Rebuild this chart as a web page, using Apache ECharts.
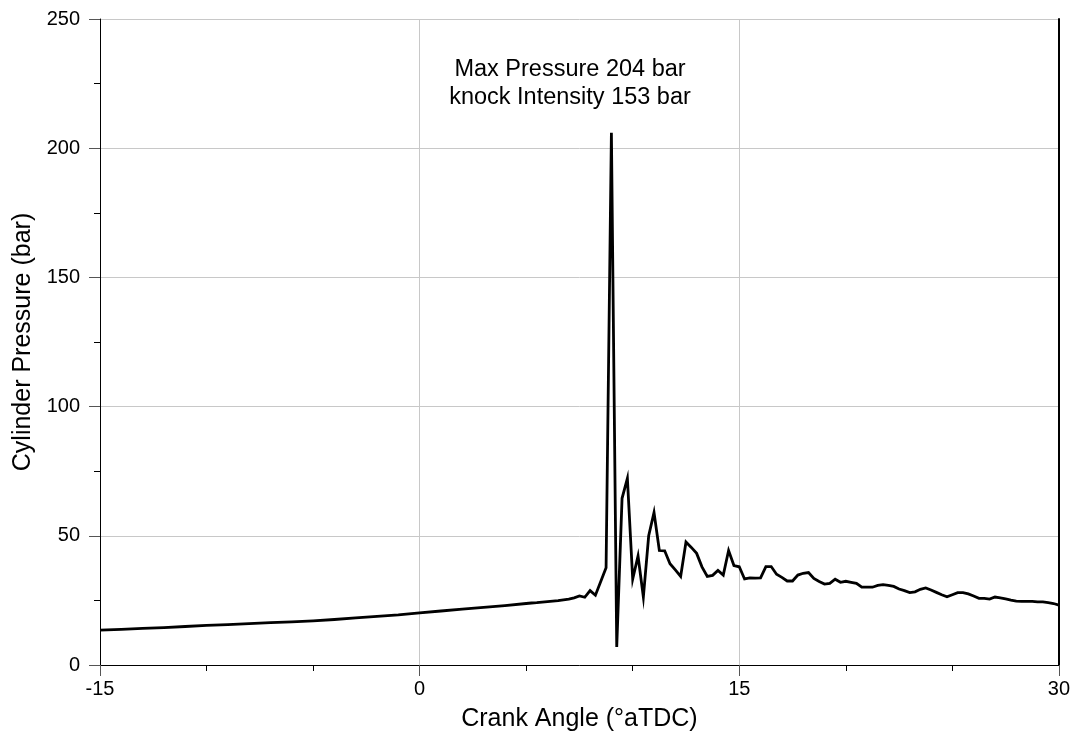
<!DOCTYPE html>
<html>
<head>
<meta charset="utf-8">
<script src="https://cdn.jsdelivr.net/npm/echarts@6/dist/echarts.min.js"></script>
<style>
html,body{margin:0;padding:0;background:#fff;}
#chart{width:1073px;height:738px;}
</style>
</head>
<body>
<div id="chart"></div>
<script>
const angles = [
  -15,-14,-13,-12,-11,-10,-9,-8,-7,-6,-5,-4,-3,-2,-1,0,1,2,3,4,5,
  5.25,5.5,5.75,6,6.25,6.5,6.75,7,7.25,7.5,7.75,8,8.25,8.5,8.75,9,
  9.25,9.5,9.75,10,10.25,10.5,10.75,11,11.25,11.5,11.75,12,12.25,12.5,12.75,13,
  13.25,13.5,13.75,14,14.25,14.5,14.75,15,15.25,15.5,15.75,16,16.25,16.5,16.75,17,
  17.25,17.5,17.75,18,18.25,18.5,18.75,19,19.25,19.5,19.75,20,20.25,20.5,20.75,21,
  21.25,21.5,21.75,22,22.25,22.5,22.75,23,23.25,23.5,23.75,24,24.25,24.5,24.75,25,
  25.25,25.5,25.75,26,26.25,26.5,26.75,27,27.25,27.5,27.75,28,28.25,28.5,28.75,29,
  29.25,29.5,29.75,30
];
const pressures = [
  13.5,13.8,14.2,14.5,14.9,15.3,15.6,16.0,16.4,16.7,17.1,17.6,18.2,18.8,19.4,20.2,20.9,21.6,22.3,23.0,23.8,
  24.0,24.1,24.3,24.5,24.7,24.9,25.2,25.5,26.0,26.7,26.2,28.8,27.0,32.3,37.6,206,
  7,64.5,72.2,33.3,42.2,26.3,50,59,44.3,44.2,39.2,36.8,34.3,47.6,45.5,43.2,
  38,34.3,34.7,36.6,34.8,44.3,38.5,38,33.3,33.7,33.6,33.7,38.1,38.1,35.1,33.9,
  32.5,32.5,34.8,35.5,35.8,33.5,32.3,31.3,31.6,33.2,32.0,32.4,32.0,31.6,30.1,30.1,
  30.1,30.8,31.1,30.8,30.4,29.4,28.8,28.0,28.3,29.3,29.8,29.0,28.1,27.2,26.4,27.2,
  28.0,28.0,27.5,26.7,25.8,25.8,25.5,26.3,26.0,25.6,25.1,24.7,24.6,24.6,24.6,24.4,
  24.4,24.1,23.8,23.2
];
const xTickLabels = [-15, 0, 15, 30];
const yTickLabels = [0, 50, 100, 150, 200, 250];
const annotationLines = ['Max Pressure 204 bar', 'knock Intensity 153 bar'];
const xName = 'Crank Angle (°aTDC)';
const yName = 'Cylinder Pressure (bar)';

const FONT = '"Liberation Sans", Arial, sans-serif';
const chart = echarts.init(document.getElementById('chart'));
const seriesData = angles.map((a, i) => [a, pressures[i]]);

chart.setOption({
  animation: false,
  backgroundColor: '#fff',
  grid: {left: 100, right: 14, top: 19, bottom: 73, containLabel: false},
  xAxis: [{
    type: 'value', min: -15, max: 30, interval: 15,
    name: xName, nameLocation: 'middle', nameGap: 42,
    nameTextStyle: {fontFamily: FONT, fontSize: 25, color: '#000'},
    axisLine: {show: true, onZero: false, lineStyle: {color: '#000', width: 1}},
    axisTick: {show: true, length: 11, lineStyle: {color: '#555', width: 1}},
    minorTick: {show: true, splitNumber: 3, length: 6, lineStyle: {color: '#000', width: 1}},
    axisLabel: {fontFamily: FONT, fontSize: 20, color: '#000', margin: 14,
      formatter: v => xTickLabels.includes(v) ? String(v) : ''},
    splitLine: {show: true, lineStyle: {color: '#c8c8c8', width: 1}}
  }],
  yAxis: [{
    type: 'value', min: 0, max: 250, interval: 50,
    name: yName, nameLocation: 'middle', nameGap: 60,
    nameTextStyle: {fontFamily: FONT, fontSize: 25, color: '#000'},
    axisLine: {show: true, onZero: false, lineStyle: {color: '#000', width: 1}},
    axisTick: {show: true, length: 11, lineStyle: {color: '#555', width: 1}},
    minorTick: {show: true, splitNumber: 2, length: 6, lineStyle: {color: '#000', width: 1}},
    axisLabel: {fontFamily: FONT, fontSize: 20, color: '#000', margin: 20,
      formatter: v => yTickLabels.includes(v) ? String(v) : ''},
    splitLine: {show: true, lineStyle: {color: '#c8c8c8', width: 1}}
  }, {
    type: 'value', min: 0, max: 250, position: 'right',
    axisLine: {show: true, onZero: false, lineStyle: {color: '#000', width: 2}},
    axisTick: {show: false}, axisLabel: {show: false}, splitLine: {show: false}
  }],
  graphic: [{
    type: 'text', x: 570, y: 55, z: 100,
    style: {
      text: annotationLines.join('\n'),
      font: '23.5px ' + FONT, fill: '#000', align: 'center', verticalAlign: 'top',
      lineHeight: 28.5
    }
  }],
  series: [{
    type: 'line', data: seriesData, showSymbol: false, symbol: 'none',
    xAxisIndex: 0, yAxisIndex: 0,
    lineStyle: {color: '#000', width: 2.8, join: 'miter', cap: 'butt'},
    z: 5
  }]
});
</script>
</body>
</html>
